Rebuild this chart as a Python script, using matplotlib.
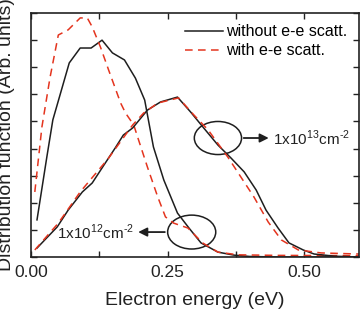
import numpy as np
import matplotlib
matplotlib.use('Agg')
import matplotlib.pyplot as plt
from matplotlib.patches import Ellipse

plt.rcParams['font.family'] = ['Liberation Sans', 'DejaVu Sans']
plt.rcParams['mathtext.fontset'] = 'custom'
plt.rcParams['mathtext.rm'] = 'Liberation Sans'

# 1x10^12 cm^-2, without e-e scattering
e_lo_no = [0.011, 0.029, 0.040, 0.070, 0.090, 0.110, 0.130, 0.149, 0.171, 0.191, 0.208,
           0.224, 0.243, 0.268, 0.289, 0.311, 0.342, 0.371, 0.40, 0.45, 0.60]
f_lo_no = [1.37, 3.69, 5.06, 7.16, 7.71, 7.71, 8.0, 7.53, 7.27, 6.6, 5.79,
           4.06, 2.84, 1.62, 1.07, 0.52, 0.18, 0.07, 0.02, 0.0, 0.0]

# 1x10^12 cm^-2, with e-e scattering
e_lo_ee = [0.007, 0.020, 0.035, 0.050, 0.068, 0.090, 0.103, 0.112, 0.127, 0.142, 0.164,
           0.173, 0.188, 0.195, 0.213, 0.232, 0.246, 0.261, 0.287, 0.314, 0.342, 0.379, 0.45, 0.60]
f_lo_ee = [2.4, 4.8, 6.64, 8.19, 8.38, 8.82, 8.82, 8.49, 7.75, 6.9, 5.68,
           5.31, 4.87, 4.43, 3.32, 2.21, 1.48, 1.25, 1.07, 0.52, 0.18, 0.08, 0.06, 0.05]

# 1x10^13 cm^-2, without e-e scattering
e_hi_no = [0.011, 0.048, 0.068, 0.094, 0.112, 0.136, 0.154, 0.169, 0.186, 0.213, 0.237,
           0.268, 0.292, 0.316, 0.342, 0.366, 0.390, 0.412, 0.430, 0.452, 0.472, 0.498,
           0.518, 0.555, 0.60]
f_hi_no = [0.33, 1.11, 1.73, 2.4, 2.73, 3.47, 4.02, 4.5, 4.76, 5.42, 5.72,
           5.9, 5.35, 4.76, 4.13, 3.65, 3.14, 2.47, 1.73, 1.07, 0.52, 0.26,
           0.11, 0.03, 0.0]

# 1x10^13 cm^-2, with e-e scattering
e_hi_ee = [0.007, 0.050, 0.090, 0.142, 0.186, 0.206, 0.232, 0.270, 0.298, 0.324, 0.360,
           0.384, 0.408, 0.434, 0.458, 0.489, 0.531, 0.60]
f_hi_ee = [0.26, 1.25, 2.4, 3.65, 4.87, 5.31, 5.68, 5.87, 5.24, 4.69, 3.69,
           2.95, 2.21, 1.29, 0.63, 0.26, 0.15, 0.11]

black = '#1e1e1e'
red = '#e4341e'

fig = plt.figure(figsize=(3.62, 3.16), dpi=100)
ax = fig.add_axes([0.0856, 0.1867, 0.906, 0.772])

ax.plot(e_lo_no, f_lo_no, color=black, lw=1.1, label='without e-e scatt.')
ax.plot(e_lo_ee, f_lo_ee, color=red, lw=1.1, dashes=(5, 3.5), label='with e-e scatt.')
ax.plot(e_hi_no, f_hi_no, color=black, lw=1.1)
ax.plot(e_hi_ee, f_hi_ee, color=red, lw=1.1, dashes=(5, 3.5))

ax.set_xlim(0, 0.6)
ax.set_ylim(0, 9)
ax.set_xticks([0.0, 0.25, 0.5])
ax.set_xticklabels(['0.00', '0.25', '0.50'])
ax.set_xticks([0.125, 0.375], minor=True)
ax.set_yticks(np.arange(0, 10, 1))
ax.set_yticklabels([])
ax.tick_params(which='both', direction='in', top=True, right=True,
               length=4.5, width=1, labelsize=12.5, pad=6, colors='#222222')
for sp in ax.spines.values():
    sp.set_linewidth(1.2)
    sp.set_color('#222222')

# density annotations (ellipse + arrow + label)
ax.add_patch(Ellipse((0.342, 4.39), 0.0864, 1.22, fill=False, color=black, lw=1.1))
ax.annotate('', xy=(0.440, 4.39), xytext=(0.384, 4.39),
            arrowprops=dict(arrowstyle='-|>', color=black, lw=1.3, mutation_scale=13))
ax.text(0.443, 4.39, r'1x10$^{13}$cm$^{\text{-2}}$', fontsize=11, va='center', ha='left', color='#222222')

ax.add_patch(Ellipse((0.294, 0.92), 0.088, 1.25, fill=False, color=black, lw=1.1))
ax.annotate('', xy=(0.191, 0.92), xytext=(0.250, 0.92),
            arrowprops=dict(arrowstyle='-|>', color=black, lw=1.3, mutation_scale=13))
ax.text(0.1875, 0.92, r'1x10$^{12}$cm$^{\text{-2}}$', fontsize=11, va='center', ha='right', color='#222222')

ax.legend(loc='upper right', frameon=False, fontsize=11.5, handlelength=2.4,
          handletextpad=0.2, labelspacing=0.25, borderaxespad=0.3, bbox_to_anchor=(1.0, 1.0))

ax.set_xlabel('Electron energy (eV)', fontsize=14, color='#222222')
ax.set_ylabel('Distribution function (Arb. units)', fontsize=14, color='#222222')
ax.xaxis.set_label_coords(0.5, -0.145)
ax.yaxis.set_label_coords(-0.048, 0.5)

fig.savefig('out.png', dpi=100)
